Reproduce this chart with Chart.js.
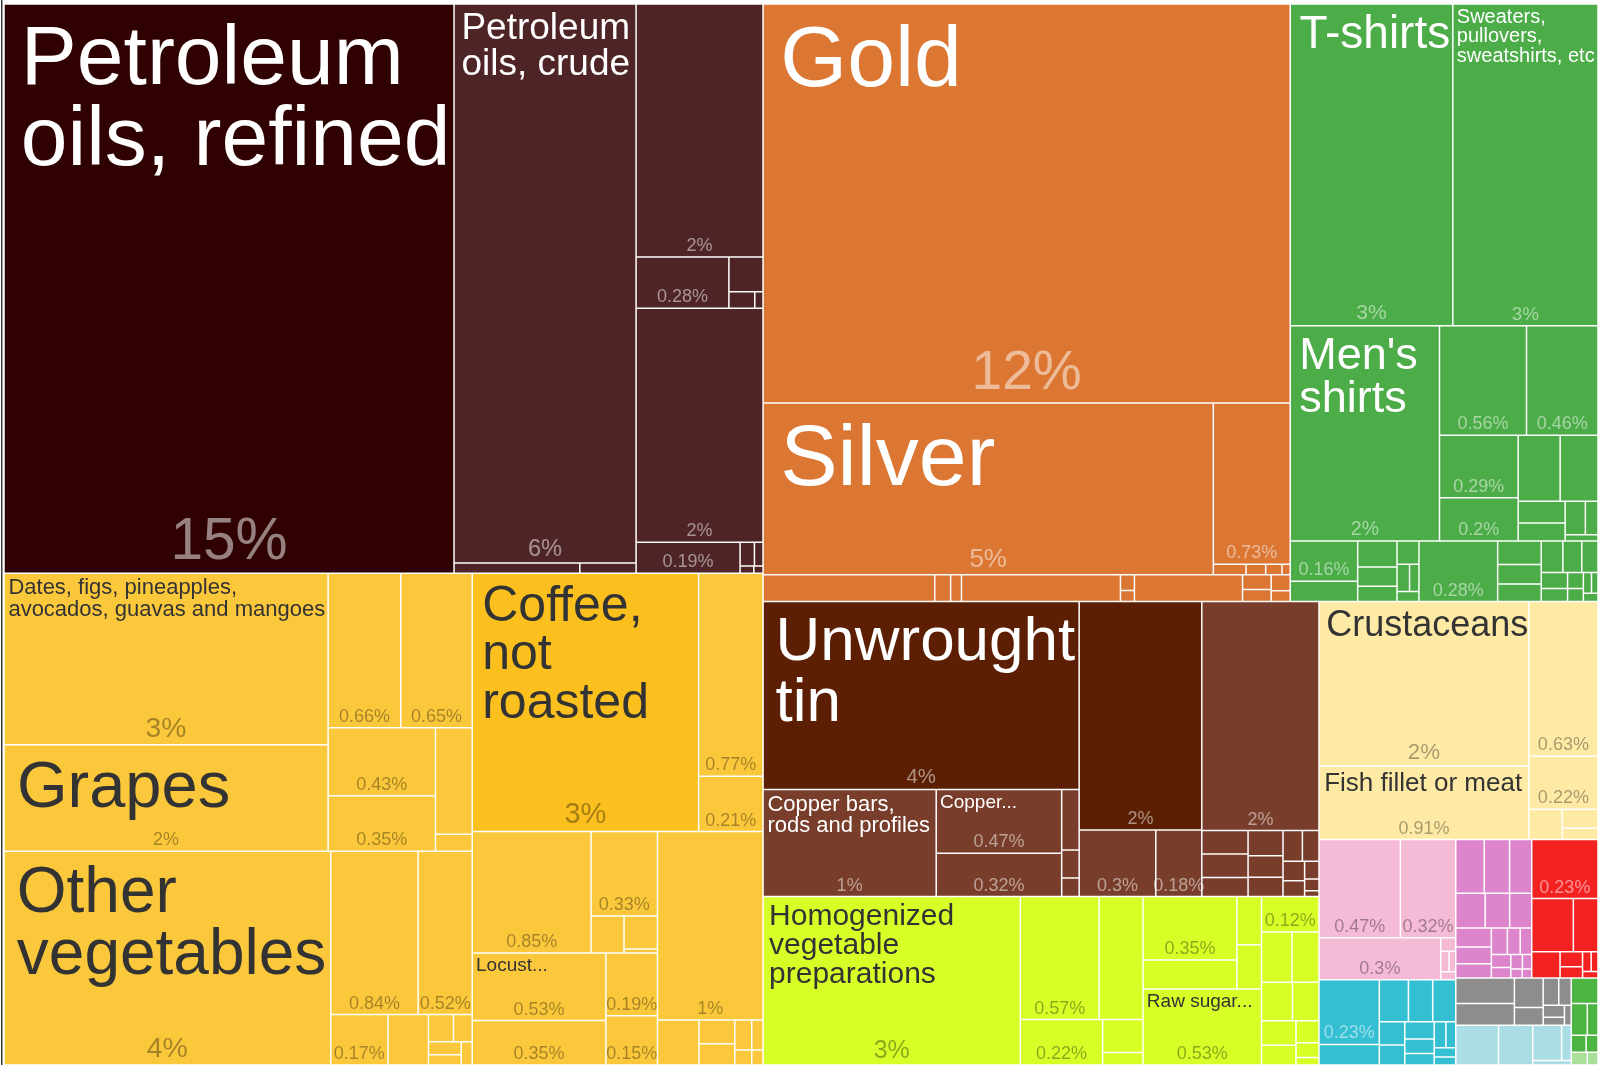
<!DOCTYPE html>
<html>
<head>
<meta charset="utf-8">
<title>Exports treemap</title>
<script src="https://cdn.jsdelivr.net/npm/chart.js@4.4.1/dist/chart.umd.min.js"></script>
<style>
  html, body { margin: 0; padding: 0; background: #fff; }
  #wrap { width: 1598px; height: 1065px; }
</style>
</head>
<body>
<div id="wrap"><canvas id="treemap" width="1598" height="1065"></canvas></div>
<script>
// share of exports (%)
// a leaf is a number, or [name, value] / [name, value, community]
// a nested array is a product group
const mineralProducts = [
  [['Petroleum oils, refined', 15.08, 'petroleum'], ['Petroleum oils, crude', 5.99], 0.076, 0.034],
  [1.89, 0.28, 0.07, 0.025, 0.008],
  [1.75, 0.19, 0.02, 0.012, 0.006, 0.004]
];
const vegetableProducts = [
  [['Dates, figs, pineapples, avocados, guavas and mangoes', 3.27], ['Grapes', 2.03], 0.66, 0.65, 0.43, 0.35, 0.23, 0.037],
  [['Other vegetables', 4.11], 0.84, 0.52, 0.17, 0.12, 0.04, 0.03, 0.025, 0.02, 0.015],
  [['Coffee, not roasted', 3.44, 'coffee'], 0.77, 0.21],
  [0.85, [0.33, 0.072, 0.065, 0.008]],
  [[['Locust...', 0.53], 0.35], [0.19, 0.15]],
  [1.17, 0.11, 0.05, 0.045, 0.03, 0.02, 0.015, 0.01]
];
const preciousMetals = [
  [['Gold', 12.38], ['Silver', 4.55], [0.73, 0.02, 0.012, 0.01, 0.005]],
  0.27, [0.025, 0.017], 0.25, [0.013, 0.009], 0.17, [0.025, 0.02], [0.018, 0.012]
];
const textiles = [
  [['T-shirts', 3.08], ['Sweaters, pullovers, sweatshirts, etc', 2.75], ["Men's shirts", 1.89],
   0.56, 0.46, 0.29, 0.2, 0.163, 0.147, 0.06, 0.05, 0.04, 0.025, 0.012],
  [0.16, 0.08],
  [0.06, 0.045, 0.035, 0.03, 0.02, 0.015, 0.013],
  0.28,
  [0.06, 0.05, 0.045, 0.04, 0.035, 0.03, 0.025, 0.02, 0.015, 0.012, 0.01, 0.008, 0.007]
];
const metals = [
  [['Unwrought tin', 3.5, 'tin'], [['Copper bars, rods and profiles', 1.09], ['Copper...', 0.47], 0.32, 0.062, 0.029, 0.019]],
  [['', 1.65, 'tin'], 0.3, 0.18],
  [1.58, 0.064, 0.064, 0.052, 0.052, 0.044, 0.04, 0.035, 0.03, 0.025, 0.02, 0.015, 0.01, 0.005]
];
const foodstuffs = [
  [
    [['Homogenized vegetable preparations', 2.55], 0.57, 0.318, 0.22, 0.078, 0.03],
    [[0.35, 0.16], [0.07, 0.064], ['Raw sugar...', 0.53]]
  ],
  [0.12, [0.09, 0.08, 0.07, 0.06, 0.05, 0.04, 0.03, 0.02, 0.01]]
];
const animalProducts = [
  [['Crustaceans', 2.03], ['Fish fillet or meat', 0.91]],
  [0.63, 0.216, 0.06, 0.04, 0.024]
];
const plastics = [0.47, 0.32, 0.3, 0.012, 0.01, 0.008, 0.007];
const machines = [0.23, 0.073, 0.072, 0.06, 0.057, 0.035, 0.03, 0.03, 0.025, 0.02, 0.018, 0.015, 0.012, 0.01];
const chemicals = [0.09, 0.08, 0.07, 0.06, 0.05, 0.045, 0.04, 0.035, 0.03, 0.025, 0.02, 0.018, 0.015, 0.012, 0.01, 0.008, 0.006, 0.005];
const transport = [0.23, 0.13, 0.077, 0.044, 0.02, 0.015, 0.01, 0.008, 0.006];
const miscellaneous = [0.088, 0.075, 0.05, 0.03, 0.025, 0.02, 0.015, 0.01, 0.008];
const instruments = [0.1, 0.08, 0.06, 0.02, 0.01];
const footwear = [0.04, 0.03, 0.02, 0.015, 0.012];
const hides = [0.012, 0.008];

const sections = [
  { name: 'Mineral products', community: 'mineral', items: mineralProducts },
  { name: 'Vegetable products', community: 'vegetable', items: vegetableProducts },
  { name: 'Precious metals', community: 'precious', items: preciousMetals },
  { name: 'Textiles', community: 'textiles', items: textiles },
  { name: 'Metals', community: 'metals', items: metals },
  { name: 'Foodstuffs', community: 'foodstuffs', items: foodstuffs },
  { name: 'Animal products', community: 'animal', items: animalProducts },
  { name: 'Plastics and rubbers', community: 'plastics', items: plastics },
  { name: 'Machines', community: 'machines', items: machines },
  { name: 'Chemical products', community: 'chemicals', items: chemicals },
  { name: 'Transportation', community: 'transport', items: transport },
  { name: 'Miscellaneous', community: 'misc', items: miscellaneous },
  { name: 'Instruments', community: 'instruments', items: instruments },
  { name: 'Footwear and headwear', community: 'footwear', items: footwear },
  { name: 'Animal hides', community: 'hides', items: hides }
];

const communityColors = {
  mineral: '#4e2426', petroleum: '#2f0101',
  vegetable: '#fcc83b', coffee: '#fbbf1e',
  precious: '#dc7633', textiles: '#4cac48',
  metals: '#783d2b', tin: '#5c1f04',
  foodstuffs: '#d8fe28', animal: '#feeaa5',
  plastics: '#f5bad6', machines: '#35bfd3', chemicals: '#dd85cc',
  transport: '#f42121', misc: '#8d8d8d', instruments: '#abdde6',
  footwear: '#4cb440', hides: '#a8e098'
};

const FONT = '"Liberation Sans", Arial, Helvetica, sans-serif';

// build the hierarchy
function toNode(item, community) {
  if (typeof item === 'number') return { value: item, name: '', community };
  if (typeof item[0] === 'string') return { value: item[1], name: item[0], community: item[2] || community };
  const children = item.map(c => toNode(c, community));
  return { children, value: children.reduce((s, c) => s + c.value, 0) };
}
const root = { children: sections.map(s => toNode(s.items, s.community)) };
root.value = root.children.reduce((s, c) => s + c.value, 0);

const leaves = [];
(function collect(n) { if (n.children) n.children.forEach(collect); else leaves.push(n); })(root);

// squarified treemap (golden ratio), children kept in data order
const PHI = (1 + Math.sqrt(5)) / 2;
function squarify(node, x0, y0, x1, y1, out) {
  if (!node.children) { out.push({ x0, y0, x1, y1 }); return; }
  const nodes = node.children, n = nodes.length;
  let value = node.value, i0 = 0, i1 = 0;
  while (i0 < n) {
    const dx = x1 - x0, dy = y1 - y0;
    let sum = nodes[i1++].value, minV = sum, maxV = sum;
    const alpha = Math.max(dy / dx, dx / dy) / (value * PHI);
    let beta = sum * sum * alpha;
    let minRatio = Math.max(maxV / beta, beta / minV);
    for (; i1 < n; i1++) {
      const v = nodes[i1].value;
      sum += v;
      if (v < minV) minV = v;
      if (v > maxV) maxV = v;
      beta = sum * sum * alpha;
      const r = Math.max(maxV / beta, beta / minV);
      if (r > minRatio) { sum -= v; break; }
      minRatio = r;
    }
    const row = nodes.slice(i0, i1);
    if (dx < dy) {
      const yb = i1 < n ? y0 + dy * sum / value : y1;
      let x = x0;
      row.forEach((c, k) => {
        const xe = k === row.length - 1 ? x1 : x + dx * c.value / sum;
        squarify(c, x, y0, xe, yb, out);
        x = xe;
      });
      y0 = yb;
    } else {
      const xb = i1 < n ? x0 + dx * sum / value : x1;
      let y = y0;
      row.forEach((c, k) => {
        const ye = k === row.length - 1 ? y1 : y + dy * c.value / sum;
        squarify(c, x0, y, xb, ye, out);
        y = ye;
      });
      x0 = xb;
    }
    value -= sum;
    i0 = i1;
  }
}

// dataset controller: each leaf is a bar element placed via the x / y scales
class TreemapController extends Chart.DatasetController {
  parsePrimitiveData(meta, data, start, count) {
    const parsed = [];
    for (let i = 0; i < count; i++) parsed.push({ x: 0, y: data[start + i] });
    return parsed;
  }
  update(mode) {
    const meta = this._cachedMeta;
    this.updateElements(meta.data, 0, meta.data.length, mode);
  }
  updateElements(elements, start, count, mode) {
    const xs = this._cachedMeta.xScale, ys = this._cachedMeta.yScale;
    const aspect = (xs.right - xs.left) / (ys.bottom - ys.top);
    const rects = [];
    squarify(this.getDataset().tree, 0, 0, aspect, 1, rects);
    for (let i = start; i < start + count; i++) {
      const r = rects[i];
      const left = xs.getPixelForValue(r.x0 / aspect), right = xs.getPixelForValue(r.x1 / aspect);
      const top = ys.getPixelForValue(r.y0), bottom = ys.getPixelForValue(r.y1);
      this.updateElement(elements[i], i, {
        x: (left + right) / 2, y: top, base: bottom,
        width: right - left, height: bottom - top,
        horizontal: false, borderSkipped: {}, inflateAmount: 0, enableBorderRadius: false,
        options: this.resolveDataElementOptions(i, mode)
      }, mode);
    }
  }
}
TreemapController.id = 'treemap';
TreemapController.defaults = { datasetElementType: false, dataElementType: 'bar' };
TreemapController.overrides = { scales: { x: { type: 'linear' }, y: { type: 'linear' } } };
Chart.register(TreemapController);

function luminance(hex) {
  const v = parseInt(hex.slice(1), 16);
  return (0.299 * (v >> 16 & 255) + 0.587 * (v >> 8 & 255) + 0.114 * (v & 255)) / 255;
}
function pctText(v) {
  return v >= 1 ? Math.round(v) + '%' : parseFloat(v.toFixed(2)) + '%';
}
function wrapWords(ctx, words, maxW) {
  const lines = [];
  let cur = '';
  for (const w of words) {
    if (ctx.measureText(w).width > maxW) return null;
    const t = cur ? cur + ' ' + w : w;
    if (ctx.measureText(t).width <= maxW) cur = t;
    else { lines.push(cur); cur = w; }
  }
  if (cur) lines.push(cur);
  return lines;
}
function fitName(ctx, name, w, h) {
  const words = name.split(' ');
  const top = name.endsWith('...') ? 19
    : Math.min(86, 1.75 * Math.sqrt(w * Math.min(w, h)) / Math.pow(name.length, 0.7));
  let best = null;
  for (let s = Math.floor(top); s >= 11; s--) {
    ctx.font = s + 'px ' + FONT;
    const lines = wrapWords(ctx, words, w - 0.2 * s);
    if (!lines) continue;
    if ((0.95 + 0.97 * (lines.length - 1) + 0.22) * s > 0.72 * h) continue;
    const score = s - 4 * lines.length;
    if (!best || score > best.score) best = { s, lines, score };
    if (lines.length === 1) break;
  }
  return best;
}

const cellLabels = {
  id: 'cellLabels',
  afterDatasetsDraw(chart) {
    const ctx = chart.ctx;
    const meta = chart.getDatasetMeta(0);
    ctx.save();
    meta.data.forEach((el, i) => {
      const leaf = leaves[i];
      const w = el.width, h = Math.abs(el.base - el.y);
      const x0 = el.x - w / 2, y0 = Math.min(el.y, el.base);
      const light = luminance(communityColors[leaf.community]) > 0.62;
      let used = 0;
      if (leaf.name) {
        const fit = fitName(ctx, leaf.name, w, h);
        if (fit) {
          ctx.font = fit.s + 'px ' + FONT;
          ctx.fillStyle = light ? '#333333' : '#ffffff';
          ctx.textAlign = 'left';
          ctx.textBaseline = 'alphabetic';
          fit.lines.forEach((line, k) => ctx.fillText(line, x0 + 0.2 * fit.s, y0 + (0.95 + 0.97 * k) * fit.s));
          used = (0.95 + 0.97 * (fit.lines.length - 1) + 0.25) * fit.s;
        }
      }
      if (w >= 45 && h >= 30) {
        const room = h - used;
        let ps = Math.min(room * 0.38, w * 0.13, Math.sqrt(w * h) * 0.12);
        ps = Math.max(18, Math.min(60, ps));
        if (room >= ps) {
          ctx.font = ps + 'px ' + FONT;
          ctx.fillStyle = light ? 'rgba(0,0,0,0.35)' : 'rgba(255,255,255,0.5)';
          ctx.textAlign = 'center';
          ctx.textBaseline = 'alphabetic';
          ctx.fillText(pctText(leaf.value), x0 + w / 2, y0 + h - 0.22 * ps - 2);
        }
      }
    });
    // thin frame line on the left edge
    ctx.fillStyle = '#3a3a3a';
    ctx.fillRect(1, 0, 1.5, chart.height);
    ctx.restore();
  }
};

new Chart(document.getElementById('treemap'), {
  type: 'treemap',
  data: {
    labels: leaves.map(l => l.name),
    datasets: [{
      tree: root,
      data: leaves.map(l => l.value),
      backgroundColor: leaves.map(l => communityColors[l.community]),
      borderColor: '#ffffff',
      borderWidth: 0.75
    }]
  },
  options: {
    responsive: false,
    animation: false,
    devicePixelRatio: 1,
    events: [],
    layout: { padding: { left: 4, top: 4, right: 0, bottom: 0 } },
    scales: {
      x: { type: 'linear', min: 0, max: 1, display: false },
      y: { type: 'linear', min: 0, max: 1, reverse: true, display: false }
    },
    plugins: { legend: { display: false }, tooltip: { enabled: false } }
  },
  plugins: [cellLabels]
});
</script>
</body>
</html>
